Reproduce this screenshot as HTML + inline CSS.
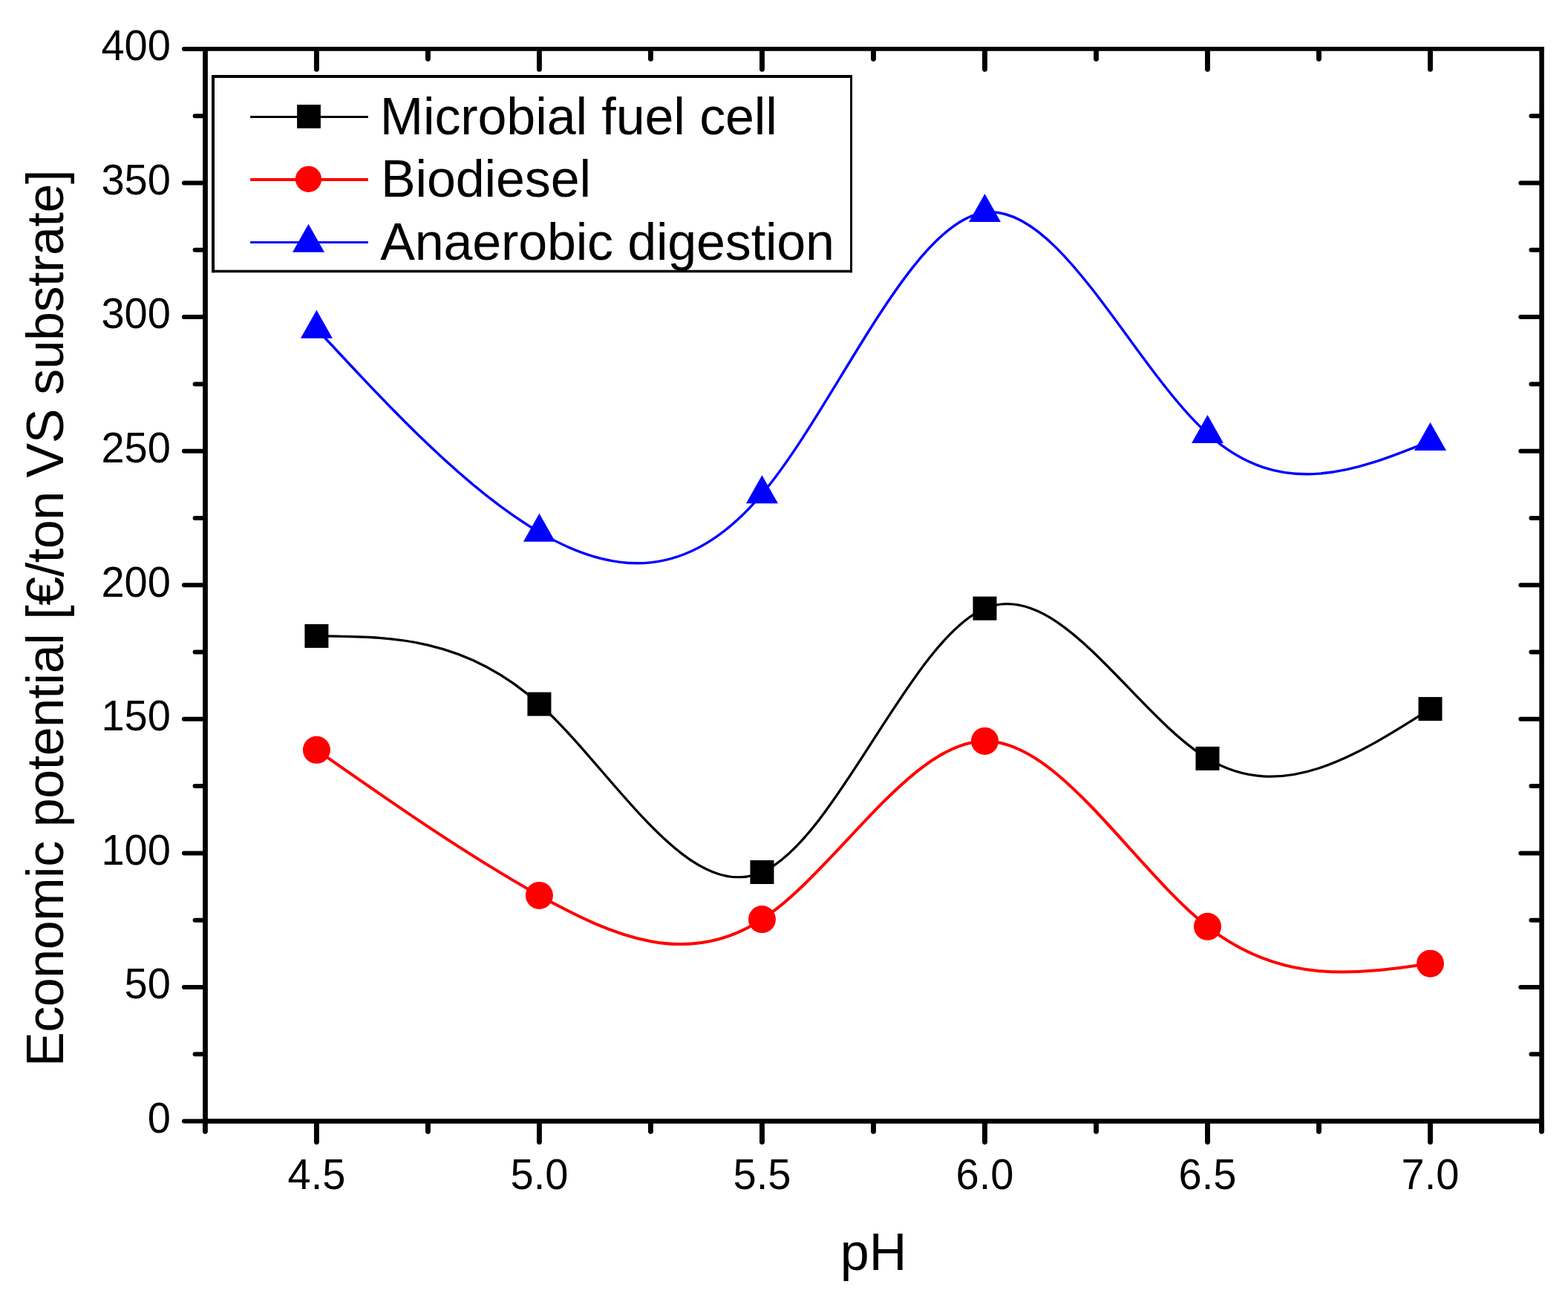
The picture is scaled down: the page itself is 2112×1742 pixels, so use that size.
<!DOCTYPE html>
<html><head><meta charset="utf-8"><title>Economic potential vs pH</title>
<style>html,body{margin:0;padding:0;background:#fff}svg{display:block}text{font-family:"Liberation Sans",Arial,sans-serif}</style></head>
<body><svg width="2112" height="1742" viewBox="0 0 2112 1742">
<rect width="2112" height="1742" fill="#fff"/>
<path d="M273.00,65.95H2079.75" stroke="#000" stroke-width="5.8" fill="none"/>
<path d="M273.00,1510.5H2079.75" stroke="#000" stroke-width="6.5" fill="none"/>
<path d="M276.5,63.05V1513.75" stroke="#000" stroke-width="6.8" fill="none"/>
<path d="M2076.55,63.05V1513.75" stroke="#000" stroke-width="6.5" fill="none"/>
<path d="M273.50,1510.50H247.90M273.50,1420.22H262.60M2076.35,1420.22H2062.40M273.50,1329.94H247.90M2076.35,1329.94H2048.30M273.50,1239.66H262.60M2076.35,1239.66H2062.40M273.50,1149.38H247.90M2076.35,1149.38H2048.30M273.50,1059.09H262.60M2076.35,1059.09H2062.40M273.50,968.81H247.90M2076.35,968.81H2048.30M273.50,878.53H262.60M2076.35,878.53H2062.40M273.50,788.25H247.90M2076.35,788.25H2048.30M273.50,697.97H262.60M2076.35,697.97H2062.40M273.50,607.69H247.90M2076.35,607.69H2048.30M273.50,517.41H262.60M2076.35,517.41H2062.40M273.50,427.12H247.90M2076.35,427.12H2048.30M273.50,336.84H262.60M2076.35,336.84H2062.40M273.50,246.56H247.90M2076.35,246.56H2048.30M273.50,156.28H262.60M2076.35,156.28H2062.40M273.50,66.00H247.90" stroke="#000" stroke-width="6.0" stroke-linecap="round" fill="none"/>
<path d="M276.40,1513.95V1524.35M426.41,1513.95V1538.45M426.41,69.40V93.35M576.42,1513.95V1524.35M576.42,69.40V79.35M726.42,1513.95V1538.45M726.42,69.40V93.35M876.43,1513.95V1524.35M876.43,69.40V79.35M1026.44,1513.95V1538.45M1026.44,69.40V93.35M1176.45,1513.95V1524.35M1176.45,69.40V79.35M1326.46,1513.95V1538.45M1326.46,69.40V93.35M1476.47,1513.95V1524.35M1476.47,69.40V79.35M1626.47,1513.95V1538.45M1626.47,69.40V93.35M1776.48,1513.95V1524.35M1776.48,69.40V79.35M1926.49,1513.95V1538.45M1926.49,69.40V93.35M2076.50,1513.95V1524.35" stroke="#000" stroke-width="6.9" stroke-linecap="round" fill="none"/>
<g font-size="56" fill="#000"><text transform="translate(229.8,1525.80) scale(1,1.035)" text-anchor="end">0</text><text transform="translate(229.8,1345.24) scale(1,1.035)" text-anchor="end">50</text><text transform="translate(229.8,1164.67) scale(1,1.035)" text-anchor="end">100</text><text transform="translate(229.8,984.11) scale(1,1.035)" text-anchor="end">150</text><text transform="translate(229.8,803.55) scale(1,1.035)" text-anchor="end">200</text><text transform="translate(229.8,622.99) scale(1,1.035)" text-anchor="end">250</text><text transform="translate(229.8,442.43) scale(1,1.035)" text-anchor="end">300</text><text transform="translate(229.8,261.86) scale(1,1.035)" text-anchor="end">350</text><text transform="translate(229.8,81.30) scale(1,1.035)" text-anchor="end">400</text><text transform="translate(426.41,1601.7) scale(1,1.035)" text-anchor="middle">4.5</text><text transform="translate(726.42,1601.7) scale(1,1.035)" text-anchor="middle">5.0</text><text transform="translate(1026.44,1601.7) scale(1,1.035)" text-anchor="middle">5.5</text><text transform="translate(1326.46,1601.7) scale(1,1.035)" text-anchor="middle">6.0</text><text transform="translate(1626.47,1601.7) scale(1,1.035)" text-anchor="middle">6.5</text><text transform="translate(1926.49,1601.7) scale(1,1.035)" text-anchor="middle">7.0</text></g>
<text x="1176.5" y="1711" text-anchor="middle" font-size="70">pH</text>
<text transform="translate(85,832.8) rotate(-90)" text-anchor="middle" textLength="1208.3" lengthAdjust="spacing" font-size="70">Economic potential [€/ton VS substrate]</text>
<path d="M426.41,856.86 C526.41,857.50 626.42,858.14 726.42,948.59 C826.43,1039.03 926.44,1219.28 1026.44,1175.01 C1126.45,1130.75 1226.45,861.96 1326.46,819.67 C1426.46,777.38 1526.47,961.58 1626.47,1021.90 C1726.48,1082.22 1826.49,1018.65 1926.49,955.09" fill="none" stroke="#000" stroke-width="3.3"/>
<path d="M426.41,1010.34 C526.41,1080.39 626.42,1150.44 726.42,1206.43 C826.43,1262.43 926.44,1304.37 1026.44,1238.57 C1126.45,1172.77 1226.45,999.22 1326.46,998.42 C1426.46,997.63 1526.47,1169.58 1626.47,1248.32 C1726.48,1327.07 1826.49,1312.61 1926.49,1298.16" fill="none" stroke="#f00" stroke-width="4.0"/>
<path d="M426.41,443.01 C526.41,550.86 626.42,658.70 726.42,717.11 C826.43,775.52 926.44,784.49 1026.44,665.47 C1126.45,546.44 1226.45,299.42 1326.46,286.29 C1426.46,273.15 1526.47,493.89 1626.47,584.21 C1726.48,674.53 1826.49,634.43 1926.49,594.33" fill="none" stroke="#00f" stroke-width="3.4"/>
<rect x="410.41" y="840.86" width="32.00" height="32.00" fill="#000"/>
<rect x="710.42" y="932.59" width="32.00" height="32.00" fill="#000"/>
<rect x="1010.44" y="1159.01" width="32.00" height="32.00" fill="#000"/>
<rect x="1310.46" y="803.67" width="32.00" height="32.00" fill="#000"/>
<rect x="1610.47" y="1005.90" width="32.00" height="32.00" fill="#000"/>
<rect x="1910.49" y="939.09" width="32.00" height="32.00" fill="#000"/>
<circle cx="426.41" cy="1010.34" r="18.50" fill="#f00"/>
<circle cx="726.42" cy="1206.43" r="18.50" fill="#f00"/>
<circle cx="1026.44" cy="1238.57" r="18.50" fill="#f00"/>
<circle cx="1326.46" cy="998.42" r="18.50" fill="#f00"/>
<circle cx="1626.47" cy="1248.32" r="18.50" fill="#f00"/>
<circle cx="1926.49" cy="1298.16" r="18.50" fill="#f00"/>
<polygon points="426.41,417.68 404.91,455.68 447.91,455.68" fill="#00f"/>
<polygon points="726.42,691.78 704.92,729.78 747.92,729.78" fill="#00f"/>
<polygon points="1026.44,640.13 1004.94,678.13 1047.94,678.13" fill="#00f"/>
<polygon points="1326.46,260.95 1304.96,298.95 1347.96,298.95" fill="#00f"/>
<polygon points="1626.47,558.88 1604.97,596.88 1647.97,596.88" fill="#00f"/>
<polygon points="1926.49,568.99 1904.99,606.99 1947.99,606.99" fill="#00f"/>
<rect x="287" y="103" width="859.5" height="262.5" fill="#fff"/>
<path d="M285,103H1147.9" stroke="#000" stroke-width="3.8" fill="none"/>
<path d="M285,365.5H1147.9" stroke="#000" stroke-width="3.4" fill="none"/>
<path d="M287,101.1V367.2" stroke="#000" stroke-width="4" fill="none"/>
<path d="M1146.5,101.1V367.2" stroke="#000" stroke-width="2.9" fill="none"/>
<line x1="337.1" y1="157.5" x2="495.8" y2="157.5" stroke="#000" stroke-width="2.9"/>
<line x1="337.1" y1="241.9" x2="495.8" y2="241.9" stroke="#f00" stroke-width="4.0"/>
<line x1="337.1" y1="326.5" x2="495.8" y2="326.5" stroke="#00f" stroke-width="3.0"/>
<rect x="400.10" y="141.05" width="31.80" height="31.80" fill="#000"/>
<circle cx="415.50" cy="241.35" r="17.60" fill="#f00"/>
<polygon points="415.50,301.87 394.00,339.87 437.00,339.87" fill="#00f"/>
<g font-size="70" fill="#000"><text x="511.7" y="181" textLength="535.2" lengthAdjust="spacing">Microbial fuel cell</text><text x="512.9" y="265" textLength="283.1" lengthAdjust="spacing">Biodiesel</text><text x="512.2" y="349.7" textLength="611.8" lengthAdjust="spacing">Anaerobic digestion</text></g>
</svg></body></html>
